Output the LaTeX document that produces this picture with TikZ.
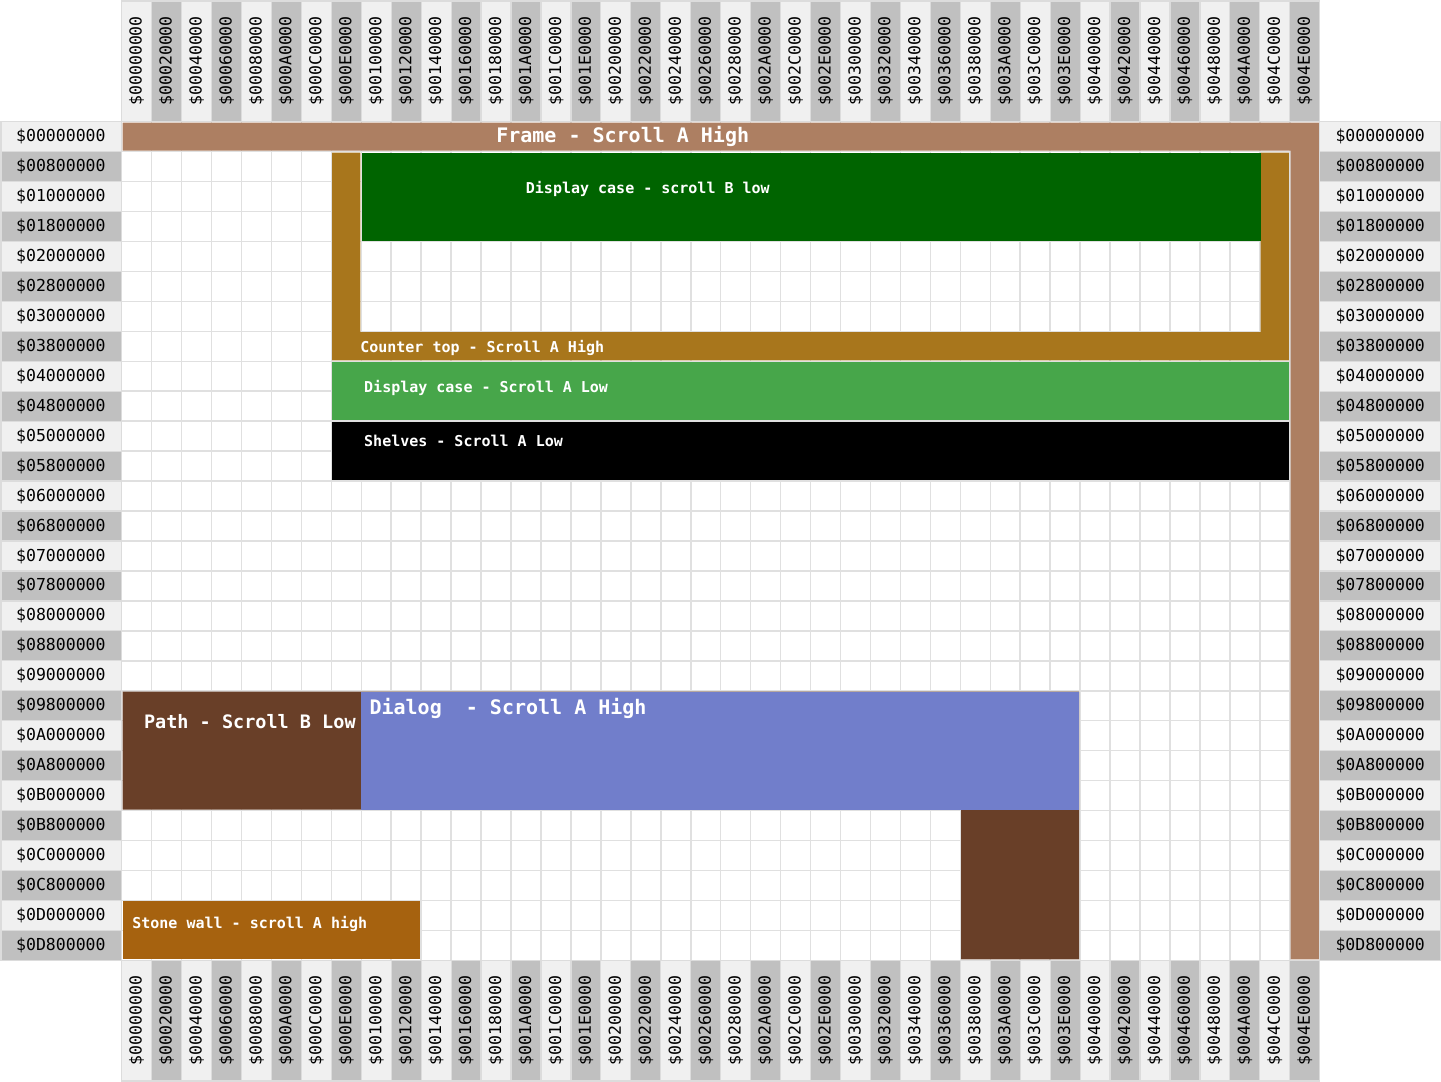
\documentclass[tikz,border=0pt]{standalone}
\usepackage{fontspec}
\setmonofont{DejaVu Sans Mono}

\definecolor{hdrlight}{HTML}{F0F0F0}
\definecolor{hdrdark}{HTML}{C0C0C0}
\definecolor{hdrborder}{HTML}{DCDCDC}
\definecolor{gridgray}{HTML}{E0E0E0}
\definecolor{framebrown}{HTML}{AD7F62}
\definecolor{counterbrown}{HTML}{A8761C}
\definecolor{casegreen}{HTML}{006400}
\definecolor{caselight}{HTML}{47A64A}
\definecolor{pathbrown}{HTML}{693F28}
\definecolor{dialogblue}{HTML}{717ECB}
\definecolor{stonebrown}{HTML}{A6620F}

\begin{document}
\begin{tikzpicture}[x=29.95pt,y=-29.95pt,
  hdrcell/.style={draw=hdrborder,line width=1.2pt},
  collabel/.style={inner sep=0pt,rotate=90,font=\fontsize{16.5}{16.5}\selectfont\ttfamily,text=black},
  rowlabel/.style={inner sep=0pt,font=\fontsize{16.5}{16.5}\selectfont\ttfamily,text=black},
  gridline/.style={draw=gridgray,line width=1.5pt},
  regionlbl/.style={inner sep=0pt,anchor=base west,text=white,font=\fontsize{15}{15}\selectfont\ttfamily\bfseries},
  biglbl/.style={regionlbl,font=\fontsize{20}{20}\selectfont\ttfamily\bfseries},
  midlbl/.style={regionlbl,font=\fontsize{18.5}{18.5}\selectfont\ttfamily\bfseries}]

\def\e{0.03}
\useasboundingbox (-4.063,-4.063) rectangle (44.05,32.03);
\fill[white] (-4.063,-4.063) rectangle (44.05,32.03);

% playfield grid: 40 columns x 28 rows
\fill[white] (0,0) rectangle (40,28);
\foreach \c in {0,...,40} \draw[gridline] (\c,0) -- (\c,28);
\foreach \r in {0,...,28} \draw[gridline] (0,\r) -- (40,\r);

% column headers, top and bottom
\foreach \h [count=\i from 0] in {00,02,04,06,08,0A,0C,0E,10,12,14,16,18,1A,1C,1E,20,22,24,26,28,2A,2C,2E,30,32,34,36,38,3A,3C,3E,40,42,44,46,48,4A,4C,4E}{
  \ifodd\i \def\cc{hdrdark}\else\def\cc{hdrlight}\fi
  \filldraw[hdrcell,fill=\cc] (\i,-4.03) rectangle ++(1,4.03);
  \node[collabel] (top\i) at (\i+0.5,-2.03) {\$00\h0000};
  \filldraw[hdrcell,fill=\cc] (\i,28) rectangle ++(1,4.03);
  \node[collabel] (bot\i) at (\i+0.5,30.01) {\$00\h0000};
}

% row headers, left and right
\foreach \h [count=\i from 0] in {00,08,10,18,20,28,30,38,40,48,50,58,60,68,70,78,80,88,90,98,A0,A8,B0,B8,C0,C8,D0,D8}{
  \ifodd\i \def\cc{hdrdark}\else\def\cc{hdrlight}\fi
  \filldraw[hdrcell,fill=\cc] (-4.03,\i) rectangle ++(4.03,1);
  \node[rowlabel] (lft\i) at (-2.03,\i+0.5) {\$0\h00000};
  \filldraw[hdrcell,fill=\cc] (40,\i) rectangle ++(4.03,1);
  \node[rowlabel] (rgt\i) at (42.02,\i+0.5) {\$0\h00000};
}

% frame: top bar and right column
\fill[framebrown] (\e,\e) -- (40-\e,\e) -- (40-\e,28-\e) -- (39+\e,28-\e)
  -- (39+\e,1-\e) -- (\e,1-\e) -- cycle;
\node[biglbl] (frame) at (12.5,0.70) {Frame - Scroll A High};

% counter top: U shape around the upper display case
\fill[counterbrown] (7+\e,1+\e) -- (8-\e,1+\e) -- (8-\e,7+\e) -- (38+\e,7+\e)
  -- (38+\e,1+\e) -- (39-\e,1+\e) -- (39-\e,8-\e) -- (7+\e,8-\e) -- cycle;
\node[regionlbl] (counter) at (7.96,7.70) {Counter top - Scroll A High};

% upper display case
\fill[casegreen] (8+\e,1+\e) rectangle (38+\e,4-\e);
\node[regionlbl] (caseB) at (13.49,2.39) {Display case - scroll B low};

% lower display case and shelves
\fill[caselight] (7+\e,8+\e) rectangle (39-\e,10-\e);
\node[regionlbl] (caseA) at (8.09,9.03) {Display case - Scroll A Low};
\fill[black] (7+\e,10+\e) rectangle (39-\e,12-\e);
\node[regionlbl] (shelves) at (8.09,10.83) {Shelves - Scroll A Low};

% path with the dialog on top of it
\fill[pathbrown] (\e,19+\e) -- (32-\e,19+\e) -- (32-\e,28-\e) -- (28+\e,28-\e)
  -- (28+\e,23-\e) -- (\e,23-\e) -- cycle;
\node[midlbl] (path) at (0.74,20.25) {Path - Scroll B Low};
\fill[dialogblue] (8,19+\e) rectangle (32-\e,23-\e);
\node[biglbl] (dialog) at (8.27,19.80) {Dialog\ \ - Scroll A High};

% stone wall
\fill[stonebrown] (\e,26+\e) rectangle (10-\e,28-\e);
\node[regionlbl] (stone) at (0.35,26.93) {Stone wall - scroll A high};

\end{tikzpicture}
\end{document}
